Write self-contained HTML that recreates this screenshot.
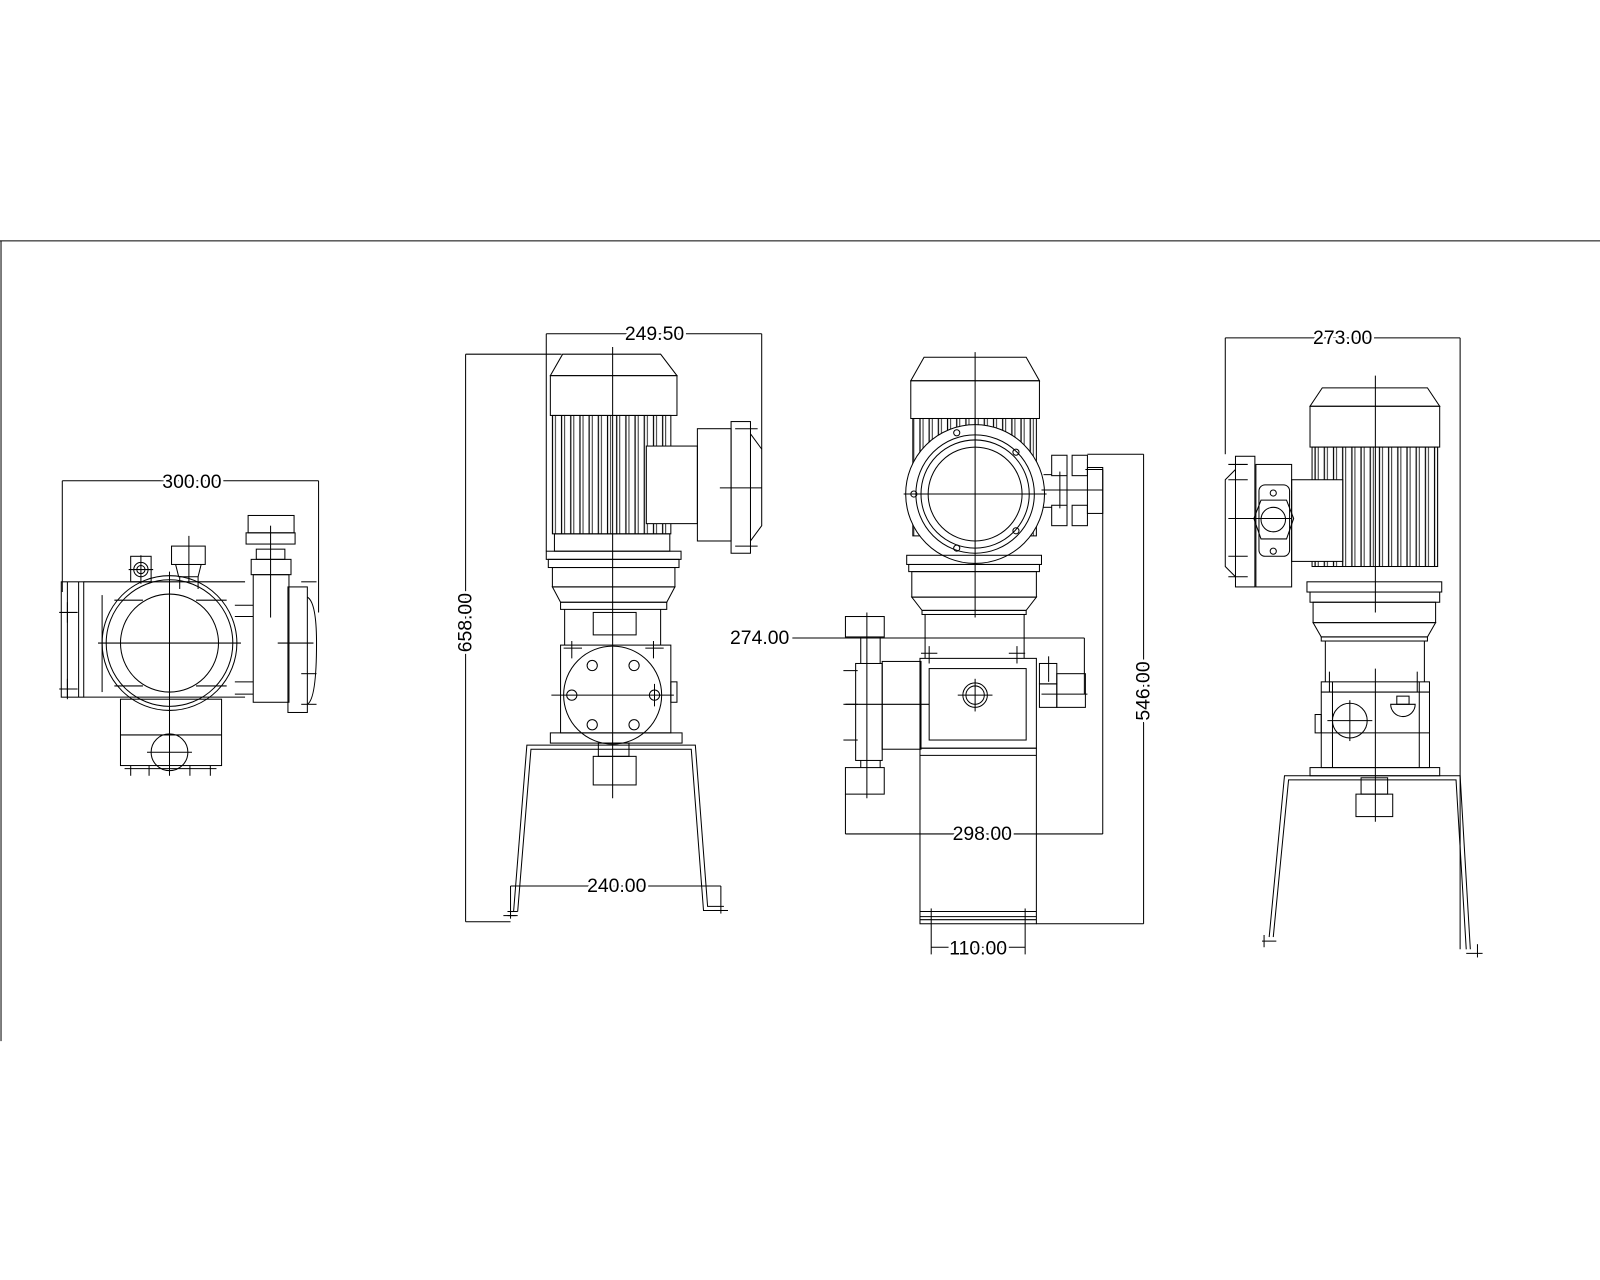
<!DOCTYPE html>
<html><head><meta charset="utf-8"><style>
html,body{margin:0;padding:0;background:#fff;}
svg{display:block;}
text{font-family:"Liberation Sans",sans-serif;font-size:19px;fill:#000;stroke:#fff;stroke-width:5px;paint-order:stroke;}
</style></head><body>
<svg width="1600" height="1280" viewBox="0 0 1567 1254" preserveAspectRatio="none" xmlns="http://www.w3.org/2000/svg">
<defs>
<pattern id="fins" x="0" y="0" width="9" height="10" patternUnits="userSpaceOnUse">
<line x1="1" y1="0" x2="1" y2="10" stroke="#000" stroke-width="1.2"/>
<line x1="4" y1="0" x2="4" y2="10" stroke="#000" stroke-width="0.8"/>
</pattern>
</defs>
<g fill="none" stroke="#000" stroke-width="1">
<line x1="0" y1="236" x2="1567" y2="236"/>
<line x1="1" y1="236" x2="1" y2="1020"/>

<line x1="61" y1="471" x2="312" y2="471"/>
<line x1="61" y1="471" x2="61" y2="580"/>
<line x1="312" y1="471" x2="312" y2="600"/>
<rect x="60" y="570" width="22" height="113"/>
<line x1="66" y1="570" x2="66" y2="683"/><line x1="77" y1="570" x2="77" y2="683"/>
<line x1="82" y1="570" x2="240" y2="570"/><line x1="82" y1="683" x2="240" y2="683"/>
<line x1="100" y1="583" x2="100" y2="678"/>
<circle cx="166" cy="630" r="66"/><circle cx="166" cy="630" r="62"/><circle cx="166" cy="630" r="48"/>
<line x1="96" y1="630" x2="236" y2="630"/><line x1="166" y1="560" x2="166" y2="760"/>
<line x1="66" y1="590" x2="66" y2="610"/><line x1="58" y1="600" x2="76" y2="600"/>
<line x1="66" y1="665" x2="66" y2="685"/><line x1="58" y1="675" x2="76" y2="675"/>
<line x1="112" y1="588" x2="140" y2="588"/><line x1="192" y1="588" x2="222" y2="588"/>
<line x1="112" y1="672" x2="140" y2="672"/><line x1="192" y1="672" x2="222" y2="672"/>
<rect x="168" y="535" width="33" height="18"/><polygon points="172,553 197,553 194,565 175,565"/>
<line x1="176" y1="565" x2="176" y2="577"/><line x1="194" y1="565" x2="194" y2="577"/>
<line x1="185" y1="525" x2="185" y2="570"/>
<rect x="128" y="545" width="20" height="25"/><circle cx="138" cy="558" r="7"/><circle cx="138" cy="558" r="4"/>
<line x1="126" y1="558" x2="150" y2="558"/><line x1="138" y1="544" x2="138" y2="572"/>
<line x1="230" y1="593" x2="248" y2="593"/><line x1="230" y1="604" x2="248" y2="604"/>
<line x1="230" y1="668" x2="248" y2="668"/><line x1="230" y1="680" x2="248" y2="680"/>
<rect x="243" y="505" width="45" height="17"/><rect x="241" y="522" width="48" height="11"/>
<rect x="251" y="538" width="28" height="10"/><rect x="246" y="548" width="39" height="15"/>
<line x1="265" y1="515" x2="265" y2="605"/>
<rect x="248" y="563" width="35" height="125"/>
<rect x="282" y="575" width="19" height="123"/>
<path d="M301,585 Q310,590 310,630 Q310,685 301,690"/>
<line x1="272" y1="630" x2="307" y2="630"/><line x1="295" y1="570" x2="310" y2="570"/><line x1="295" y1="660" x2="310" y2="660"/><line x1="295" y1="690" x2="310" y2="690"/>
<rect x="118" y="685" width="99" height="65"/><line x1="118" y1="720" x2="217" y2="720"/>
<circle cx="166" cy="737" r="18"/><line x1="144" y1="737" x2="188" y2="737"/>
<line x1="128" y1="750" x2="128" y2="760"/><line x1="146" y1="750" x2="146" y2="760"/><line x1="186" y1="750" x2="186" y2="760"/><line x1="206" y1="750" x2="206" y2="760"/>
<line x1="122" y1="753" x2="212" y2="753"/>

<line x1="535" y1="327" x2="746" y2="327"/>
<line x1="535" y1="327" x2="535" y2="540"/><line x1="746" y1="327" x2="746" y2="440"/>
<line x1="456" y1="347" x2="550" y2="347"/><line x1="456" y1="347" x2="456" y2="903"/><line x1="456" y1="903" x2="500" y2="903"/>
<polygon points="551,347 647,347 663,368 539,368"/>
<rect x="539" y="368" width="124" height="39"/>
<rect x="541" y="407" width="116" height="116" fill="url(#fins)"/>
<rect x="633" y="437" width="50" height="76" fill="#fff"/>
<rect x="683" y="420" width="33" height="110"/><rect x="716" y="413" width="19" height="129"/>
<path d="M735,425 L746,440 L746,515 L735,530"/>
<line x1="705" y1="478" x2="746" y2="478"/><line x1="720" y1="420" x2="742" y2="420"/><line x1="720" y1="535" x2="742" y2="535"/>
<rect x="543" y="523" width="113" height="17"/>
<rect x="535" y="540" width="132" height="8"/><rect x="537" y="548" width="128" height="8"/>
<rect x="541" y="556" width="120" height="19"/>
<polygon points="541,575 661,575 653,590 549,590"/><rect x="549" y="590" width="104" height="7"/>
<line x1="553" y1="597" x2="553" y2="632"/><line x1="647" y1="597" x2="647" y2="632"/>
<rect x="581" y="600" width="42" height="22"/>
<rect x="549" y="632" width="108" height="86"/>
<circle cx="600" cy="681" r="48"/>
<circle cx="580" cy="652" r="5"/><circle cx="621" cy="652" r="5"/><circle cx="560" cy="681" r="5"/><circle cx="641" cy="681" r="5"/><circle cx="580" cy="710" r="5"/><circle cx="621" cy="710" r="5"/>
<line x1="540" y1="681" x2="660" y2="681"/><line x1="641" y1="670" x2="641" y2="692"/>
<rect x="657" y="668" width="6" height="20"/>
<line x1="560" y1="628" x2="560" y2="645"/><line x1="552" y1="635" x2="570" y2="635"/><line x1="640" y1="628" x2="640" y2="645"/><line x1="632" y1="635" x2="650" y2="635"/>
<rect x="539" y="718" width="129" height="10"/>
<rect x="586" y="728" width="30" height="13"/><rect x="581" y="741" width="42" height="28"/>
<line x1="600" y1="340" x2="600" y2="782"/>
<path d="M503,893 L516,730 L681,730 L693,888 L709,888"/>
<path d="M507,893 L520,734 L677,734 L689,892 L709,892"/>
<line x1="497" y1="893" x2="507" y2="893"/><line x1="497" y1="897" x2="507" y2="897"/>
<line x1="500" y1="868" x2="706" y2="868"/><line x1="500" y1="868" x2="500" y2="900"/><line x1="706" y1="868" x2="706" y2="895"/>
<line x1="493" y1="897" x2="505" y2="897"/><line x1="699" y1="892" x2="713" y2="892"/>

<polygon points="905,350 1005,350 1018,373 892,373"/>
<rect x="892" y="373" width="126" height="37"/>
<rect x="894" y="410" width="121" height="115" fill="url(#fins)"/>
<circle cx="955" cy="484" r="68" fill="#fff"/><circle cx="955" cy="484" r="58"/><circle cx="955" cy="484" r="53"/><circle cx="955" cy="484" r="46"/>
<line x1="885" y1="484" x2="1025" y2="484"/>
<circle cx="937" cy="424" r="3"/><circle cx="995" cy="443" r="3"/><circle cx="995" cy="520" r="3"/><circle cx="937" cy="537" r="3"/><circle cx="895" cy="484" r="3"/>
<line x1="1022" y1="465" x2="1030" y2="465"/><line x1="1022" y1="497" x2="1030" y2="497"/>
<rect x="1030" y="446" width="15" height="20"/><rect x="1030" y="495" width="15" height="20"/>
<rect x="1050" y="446" width="15" height="20"/><rect x="1050" y="495" width="15" height="20"/>
<line x1="1038" y1="462" x2="1038" y2="498"/><line x1="1045" y1="462" x2="1045" y2="498"/>
<rect x="1065" y="458" width="15" height="45"/><line x1="1020" y1="480" x2="1080" y2="480"/>
<rect x="888" y="544" width="132" height="9"/><rect x="890" y="553" width="128" height="7"/>
<rect x="893" y="560" width="122" height="25"/>
<polygon points="893,585 1015,585 1005,598 903,598"/><rect x="903" y="598" width="102" height="4"/>
<line x1="906" y1="602" x2="906" y2="645"/><line x1="1003" y1="602" x2="1003" y2="645"/>
<line x1="955" y1="345" x2="955" y2="605"/>
<rect x="901" y="645" width="114" height="88"/><rect x="910" y="655" width="95" height="70"/>
<circle cx="955" cy="681" r="12"/><circle cx="955" cy="681" r="9"/><line x1="938" y1="681" x2="972" y2="681"/><line x1="955" y1="665" x2="955" y2="697"/>
<line x1="910" y1="633" x2="910" y2="650"/><line x1="902" y1="640" x2="918" y2="640"/><line x1="996" y1="633" x2="996" y2="650"/><line x1="988" y1="640" x2="1004" y2="640"/>
<line x1="901" y1="740" x2="1015" y2="740"/>
<rect x="901" y="733" width="114" height="172"/>
<line x1="901" y1="893" x2="1015" y2="893"/><line x1="901" y1="898" x2="1015" y2="898"/><line x1="901" y1="901" x2="1015" y2="901"/>
<rect x="1018" y="650" width="17" height="20"/><rect x="1018" y="670" width="17" height="23"/>
<rect x="1035" y="660" width="28" height="33"/><line x1="1020" y1="680" x2="1065" y2="680"/><line x1="1027" y1="643" x2="1027" y2="668"/>
<rect x="828" y="604" width="38" height="20"/><line x1="843" y1="624" x2="843" y2="650"/><line x1="862" y1="624" x2="862" y2="650"/>
<rect x="838" y="650" width="26" height="95"/><rect x="864" y="648" width="38" height="86"/>
<line x1="828" y1="690" x2="910" y2="690"/>
<line x1="826" y1="657" x2="840" y2="657"/><line x1="826" y1="690" x2="840" y2="690"/><line x1="826" y1="725" x2="840" y2="725"/>
<line x1="843" y1="745" x2="843" y2="752"/><line x1="862" y1="745" x2="862" y2="752"/>
<rect x="828" y="752" width="38" height="26"/><line x1="849" y1="600" x2="849" y2="782"/>
<line x1="776" y1="625" x2="1062" y2="625"/><line x1="1062" y1="625" x2="1062" y2="680"/>
<line x1="828" y1="778" x2="828" y2="817"/><line x1="828" y1="817" x2="1080" y2="817"/><line x1="1080" y1="460" x2="1080" y2="817"/><line x1="1063" y1="460" x2="1080" y2="460"/>
<line x1="1065" y1="445" x2="1120" y2="445"/><line x1="1120" y1="445" x2="1120" y2="905"/><line x1="1015" y1="905" x2="1120" y2="905"/>
<line x1="912" y1="890" x2="912" y2="935"/><line x1="1004" y1="890" x2="1004" y2="935"/><line x1="912" y1="928" x2="1004" y2="928"/>

<line x1="1200" y1="331" x2="1430" y2="331"/><line x1="1200" y1="331" x2="1200" y2="445"/><line x1="1430" y1="331" x2="1430" y2="930"/>
<polygon points="1295,380 1398,380 1410,398 1283,398"/><rect x="1283" y="398" width="127" height="40"/>
<rect x="1285" y="438" width="123" height="117" fill="url(#fins)"/>
<rect x="1265" y="470" width="50" height="80" fill="#fff"/>
<rect x="1230" y="455" width="35" height="120"/>
<polygon points="1228,508 1235,490 1260,490 1267,508 1260,528 1235,528"/>
<circle cx="1247" cy="509" r="12"/><rect x="1233" y="475" width="30" height="70" rx="6"/>
<circle cx="1247" cy="483" r="3"/><circle cx="1247" cy="540" r="3"/>
<rect x="1210" y="447" width="19" height="128"/>
<path d="M1210,460 L1200,470 L1200,555 L1210,565"/>
<line x1="1203" y1="508" x2="1265" y2="508"/><line x1="1203" y1="455" x2="1222" y2="455"/><line x1="1203" y1="470" x2="1222" y2="470"/><line x1="1203" y1="545" x2="1222" y2="545"/><line x1="1203" y1="565" x2="1222" y2="565"/>
<rect x="1280" y="570" width="132" height="10"/><rect x="1283" y="580" width="127" height="10"/>
<rect x="1286" y="590" width="120" height="20"/>
<polygon points="1286,610 1406,610 1398,624 1294,624"/><rect x="1294" y="624" width="104" height="4"/>
<line x1="1298" y1="628" x2="1298" y2="668"/><line x1="1395" y1="628" x2="1395" y2="668"/>
<line x1="1347" y1="368" x2="1347" y2="600"/>
<rect x="1294" y="668" width="106" height="84"/><line x1="1305" y1="668" x2="1305" y2="752"/><line x1="1390" y1="668" x2="1390" y2="752"/>
<line x1="1294" y1="678" x2="1400" y2="678"/><line x1="1294" y1="718" x2="1400" y2="718"/>
<circle cx="1322" cy="706" r="17"/><line x1="1300" y1="706" x2="1344" y2="706"/><line x1="1322" y1="686" x2="1322" y2="726"/>
<path d="M1362,690 A12,12 0 0 0 1386,690 Z"/><rect x="1368" y="682" width="12" height="8"/>
<rect x="1288" y="700" width="6" height="18"/>
<rect x="1283" y="752" width="127" height="8"/>
<line x1="1347" y1="655" x2="1347" y2="805"/>
<rect x="1333" y="762" width="26" height="16"/><rect x="1328" y="778" width="36" height="22"/>
<line x1="1302" y1="658" x2="1302" y2="678"/><line x1="1388" y1="658" x2="1388" y2="678"/>
<path d="M1243,918 L1258,760 L1430,760 L1440,930"/>
<path d="M1247,918 L1262,764 L1426,764 L1436,930"/>
<line x1="1236" y1="922" x2="1250" y2="922"/><line x1="1436" y1="934" x2="1452" y2="934"/>
<line x1="1238" y1="916" x2="1238" y2="928"/><line x1="1447" y1="925" x2="1447" y2="938"/>
</g>
<text x="188" y="478" text-anchor="middle">300.00</text>
<text x="641" y="333" text-anchor="middle">249.50</text>
<text transform="translate(462,610) rotate(-90)" text-anchor="middle">658.00</text>
<text x="604" y="874" text-anchor="middle">240.00</text>
<text x="744" y="631" text-anchor="middle">274.00</text>
<text x="962" y="823" text-anchor="middle">298.00</text>
<text transform="translate(1126,677) rotate(-90)" text-anchor="middle">546.00</text>
<text x="958" y="935" text-anchor="middle">110.00</text>
<text x="1315" y="337" text-anchor="middle">273.00</text>
</svg>
</body></html>
